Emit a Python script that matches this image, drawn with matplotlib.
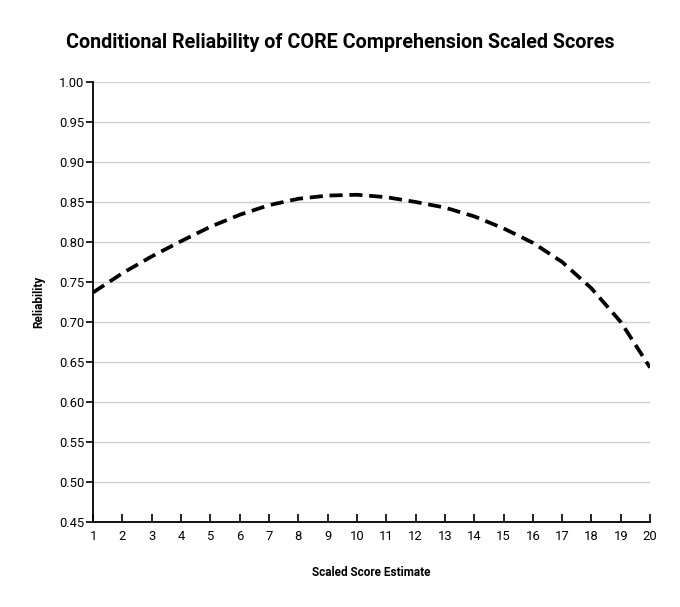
import numpy as np
import matplotlib.pyplot as plt

plt.rcParams['font.family'] = ['Roboto', 'DejaVu Sans']

# valores
escore = np.arange(1, 21, 1)
confiabilidade = [0.737, 0.761, 0.782, 0.801, 0.819, 0.834, 0.846, 0.854, 0.858, 0.859,
                  0.856, 0.850, 0.843, 0.832, 0.817, 0.799, 0.775, 0.742, 0.700, 0.643]

fig = plt.figure(figsize=(6.8, 6.07), dpi=100)
ax = fig.add_axes([0.137, 0.14, 0.819, 0.725])

ax.plot(escore, confiabilidade, color='black', linewidth=2.7, dashes=(3.5, 1.8), zorder=3)

ax.set_xlim(1, 20)
ax.set_ylim(0.45, 1.00)
ax.set_xticks(escore)
ax.set_yticks(np.arange(0.45, 1.001, 0.05))
ax.set_yticklabels(['%.2f' % v for v in np.arange(0.45, 1.001, 0.05)])

ax.grid(axis='y', color='#d0d0d0', linewidth=1)
ax.set_axisbelow(True)
for s in ['top', 'right']:
    ax.spines[s].set_visible(False)
ax.spines['left'].set_linewidth(1.3)
ax.spines['bottom'].set_linewidth(1.3)

ax.tick_params(axis='x', direction='in', length=6, width=1.2, labelsize=9.4, pad=6)
ax.tick_params(axis='y', direction='out', length=5, width=1.2, labelsize=9.4, pad=1.5)

ax.set_xlabel('Scaled Score Estimate', fontsize=8.5, fontweight='bold', labelpad=16)
ax.set_ylabel('Reliability', fontsize=8.5, fontweight='bold', labelpad=10)

fig.text(0.097, 0.93, 'Conditional Reliability of CORE Comprehension Scaled Scores',
         fontsize=14.2, fontweight='bold', ha='left', va='center')

fig.savefig('out.png', dpi=100)
